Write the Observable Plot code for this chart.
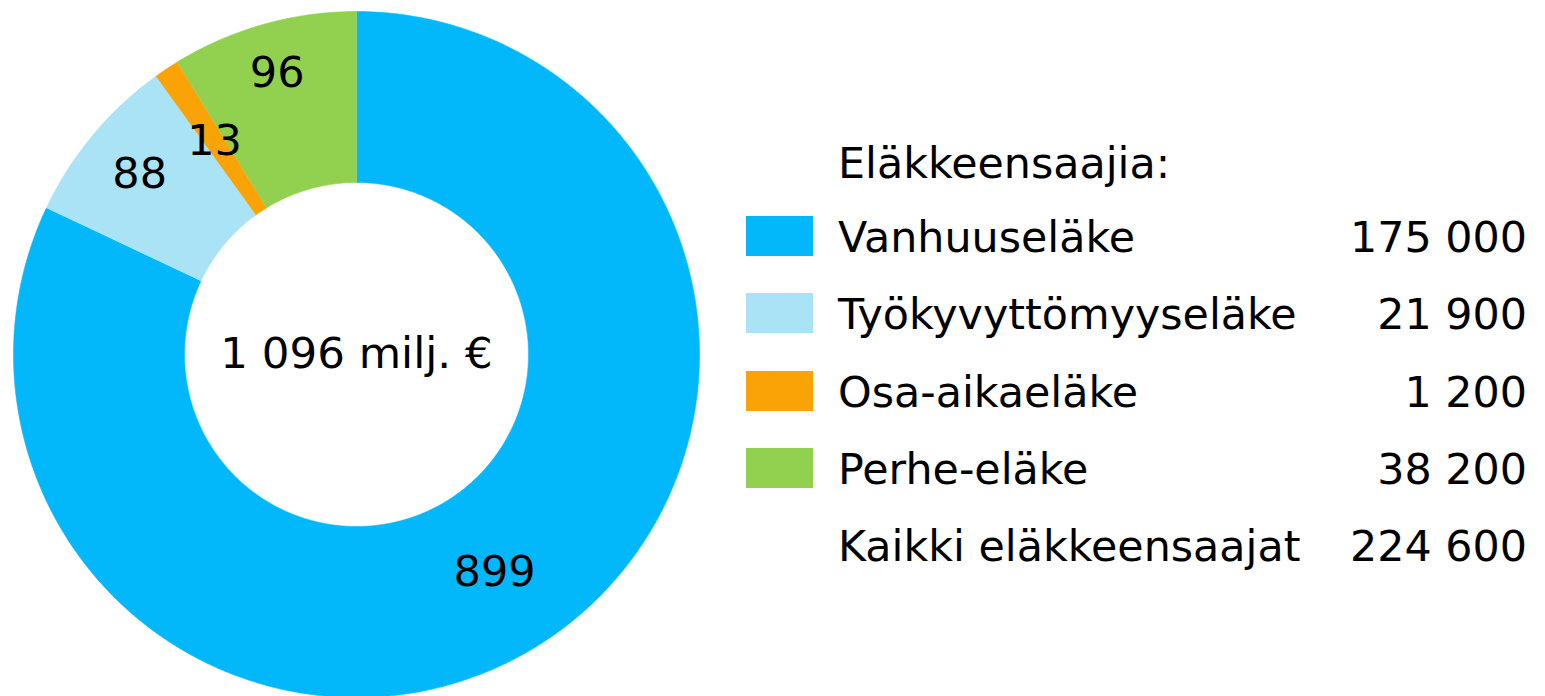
<!DOCTYPE html>
<html>
<head>
<meta charset="utf-8">
<script src="https://cdn.jsdelivr.net/npm/d3@7"></script>
<script src="https://cdn.jsdelivr.net/npm/@observablehq/plot@0.6"></script>
<style>
  html, body { margin: 0; padding: 0; background: #fff; }
  #wrap { position: relative; width: 1545px; height: 696px; overflow: hidden; font-family: "DejaVu Sans", Verdana, sans-serif; color: #000; }
  #chart { position: absolute; left: 0; top: 0; }
  .lg { position: absolute; font-size: 42.8px; line-height: 50px; height: 50px; white-space: nowrap; }
  .sw { position: absolute; width: 67px; height: 40px; }
  .num { text-align: right; }
</style>
</head>
<body>
<div id="wrap"><div id="chart"></div></div>
<script>
// ---- data ----
const categories = ["Vanhuuseläke", "Työkyvyttömyyseläke", "Osa-aikaeläke", "Perhe-eläke"];
const amounts = [899, 88, 13, 96];              // milj. €
const recipients = ["175 000", "21 900", "1 200", "38 200"];
const colors = ["#02b8fa", "#abe3f6", "#faa307", "#92d150"];
const labelRadius = [258, 282, 256, 292];
const totalLabel = "1 096 milj. €";
const legendTitle = "Eläkkeensaajia:";
const totalRowLabel = "Kaikki eläkkeensaajat";
const totalRowValue = "224 600";

// ---- geometry ----
const W = 720, H = 696, cx = 356, cy = 354;
const R = 343, r0 = 172;

const arcs = d3.pie().sort(null).value(d => d)(amounts);

function slicePoints(a) {
  const pts = [];
  const n = Math.max(4, Math.ceil((a.endAngle - a.startAngle) / (Math.PI / 720)));
  for (let i = 0; i <= n; i++) {
    const t = a.startAngle + (a.endAngle - a.startAngle) * i / n;
    pts.push({x: R * Math.sin(t), y: R * Math.cos(t)});
  }
  for (let i = n; i >= 0; i--) {
    const t = a.startAngle + (a.endAngle - a.startAngle) * i / n;
    pts.push({x: r0 * Math.sin(t), y: r0 * Math.cos(t)});
  }
  return pts;
}

const labels = arcs.map((a, i) => {
  const m = (a.startAngle + a.endAngle) / 2;
  return {x: labelRadius[i] * Math.sin(m), y: labelRadius[i] * Math.cos(m), text: String(amounts[i])};
});

const marks = arcs.map((a, i) =>
  Plot.line(slicePoints(a), {x: "x", y: "y", fill: colors[i], stroke: colors[i], strokeWidth: 0.6, curve: "linear"})
);
marks.push(Plot.text(labels, {x: "x", y: "y", text: "text", fontSize: 43, fill: "#000", fontFamily: "DejaVu Sans"}));
marks.push(Plot.text([totalLabel], {x: () => 0, y: () => 0, text: d => d, fontSize: 43.5, fill: "#000", fontFamily: "DejaVu Sans"}));

const svg = Plot.plot({
  width: W, height: H,
  margin: 0,
  x: {domain: [-cx, W - cx], axis: null},
  y: {domain: [-(H - cy), cy], axis: null},
  style: {background: "#fff", overflow: "visible"},
  marks
});
document.getElementById("chart").appendChild(svg);

// ---- legend ----
const wrap = document.getElementById("wrap");
const textLeft = 838, swLeft = 746, numRight = 1527;
const row0 = 237, rowStep = 77.3;
function addText(txt, centerY, cls, extra) {
  const d = document.createElement("div");
  d.className = "lg " + (cls || "");
  d.textContent = txt;
  d.style.top = (centerY - 25) + "px";
  Object.assign(d.style, extra);
  wrap.appendChild(d);
}
addText(legendTitle, row0 - 74, "", {left: textLeft + "px"});
categories.forEach((c, i) => {
  const y = row0 + i * rowStep;
  const s = document.createElement("div");
  s.className = "sw";
  s.style.left = swLeft + "px";
  s.style.top = Math.round(y - 21) + "px";
  s.style.background = colors[i];
  wrap.appendChild(s);
  addText(c, y, "", {left: textLeft + "px"});
  addText(recipients[i], y, "num", {right: (1545 - numRight) + "px"});
});
const yt = row0 + categories.length * rowStep;
addText(totalRowLabel, yt, "", {left: textLeft + "px"});
addText(totalRowValue, yt, "num", {right: (1545 - numRight) + "px"});
</script>
</body>
</html>
